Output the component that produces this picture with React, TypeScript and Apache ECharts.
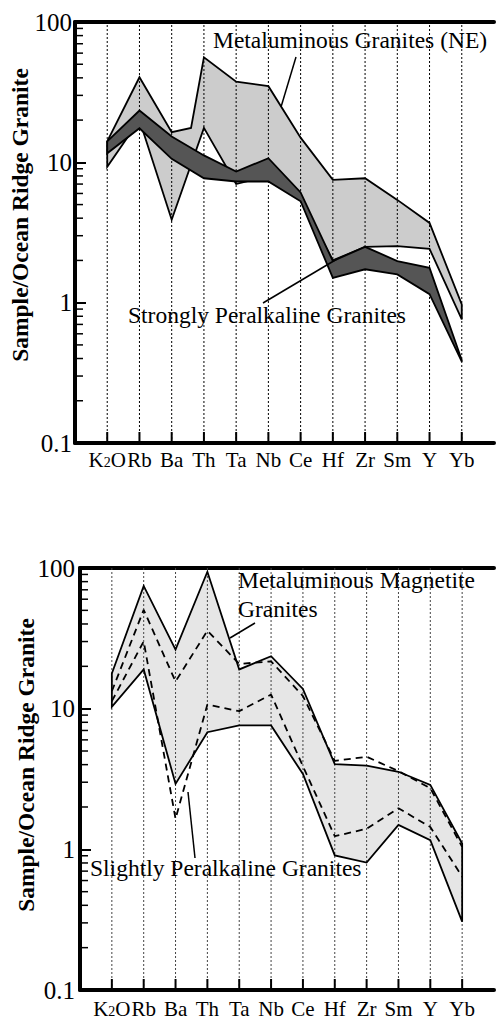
import React, { useEffect, useRef } from "react";
import * as echarts from "echarts";

const categories = ["K2O", "Rb", "Ba", "Th", "Ta", "Nb", "Ce", "Hf", "Zr", "Sm", "Y", "Yb"];
const minorTicks = [0.2, 0.3, 0.4, 0.5, 0.6, 0.7, 0.8, 0.9, 2, 3, 4, 5, 6, 7, 8, 9, 20, 30, 40, 50, 60, 70, 80, 90];

// Upper chart: Metaluminous Granites (NE) envelope, [category position, value]
const metaNEUpper: [number, number][] = [[0, 14.1], [1, 40.4], [2, 16.4], [2.6, 17.6], [3, 56], [4, 37.6], [5, 34.9], [6, 15], [7, 7.5], [8, 7.7], [9, 5.4], [10, 3.7], [11, 0.97]];
const metaNELower: [number, number][] = [[0, 9.3], [1, 20], [2, 3.9], [3, 17.6], [4, 7.0], [5, 8.0], [6, 5.5], [7, 2.0], [8, 2.5], [9, 2.53], [10, 2.42], [11, 0.76]];
// Upper chart: Strongly Peralkaline Granites envelope
const strongUpper = [14.1, 23.4, 15.3, 11.2, 8.6, 10.7, 6.1, 1.98, 2.5, 1.98, 1.77, 0.39];
const strongLower = [11.6, 17.5, 10.6, 7.7, 7.3, 7.3, 5.28, 1.5, 1.73, 1.59, 1.15, 0.38];

// Lower chart: Metaluminous Magnetite Granites envelope
const magUpper = [17.8, 74.6, 26.3, 94, 19, 23.6, 13.8, 4.04, 3.93, 3.56, 2.87, 1.1];
const magLower = [10.3, 19, 2.92, 6.8, 7.6, 7.6, 3.43, 0.906, 0.805, 1.49, 1.16, 0.306];
// Lower chart: Slightly Peralkaline Granites (dashed)
const slightUpper = [13.3, 50.4, 15.6, 35.8, 20.8, 21.7, 12.3, 4.26, 4.55, 3.6, 2.72, 1.04];
const slightLower = [11.3, 30.1, 1.65, 10.7, 9.6, 12.6, 3.9, 1.24, 1.4, 1.96, 1.44, 0.64];

const FONT = "Liberation Serif";

const pairs = (arr: number[]): [number, number][] => arr.map((v, i) => [i, v]);

function polygonSeries(xi: number, yi: number, upper: [number, number][], lower: [number, number][], style: any, z: number) {
  return {
    type: "custom",
    xAxisIndex: xi,
    yAxisIndex: yi,
    z,
    silent: true,
    clip: false,
    data: [[0, 1]],
    renderItem: (_p: any, api: any) => {
      const pts = upper.concat(lower.slice().reverse()).map((p) => api.coord(p));
      return { type: "polygon", shape: { points: pts }, style };
    },
  };
}

function gridLineSeries(xi: number, yi: number, color: string, z: number) {
  return {
    type: "custom",
    xAxisIndex: xi,
    yAxisIndex: yi,
    z,
    silent: true,
    data: categories.map((_, i) => [i, 1]),
    renderItem: (_p: any, api: any) => {
      const x = api.value(0);
      const b = api.coord([x, 0.1]);
      const t = api.coord([x, 100]);
      return {
        type: "group",
        children: [
          { type: "line", shape: { x1: b[0], y1: b[1], x2: t[0], y2: t[1] }, style: { stroke: color, lineWidth: 1, lineDash: [2, 2] } },
          { type: "line", shape: { x1: b[0], y1: b[1], x2: b[0], y2: b[1] - 11 }, style: { stroke: "#000", lineWidth: 2 } },
        ],
      };
    },
  };
}

function minorTickSeries(xi: number, yi: number) {
  return {
    type: "custom",
    xAxisIndex: xi,
    yAxisIndex: yi,
    z: 6,
    silent: true,
    clip: false,
    data: minorTicks.map((v) => [-1, v]),
    renderItem: (_p: any, api: any) => {
      const p = api.coord([-1, api.value(1)]);
      return { type: "line", shape: { x1: p[0], y1: p[1], x2: p[0] + 8, y2: p[1] }, style: { stroke: "#000", lineWidth: 1.5 } };
    },
  };
}

function xAxes(gridIndex: number, margin: number) {
  return [
    {
      type: "value",
      gridIndex,
      min: -1,
      max: 12,
      interval: 1,
      position: "bottom",
      axisLine: { show: true, onZero: false, lineStyle: { color: "#000", width: 4 } },
      axisTick: { show: false },
      splitLine: { show: false },
      axisLabel: {
        margin,
        color: "#000",
        fontSize: 21,
        fontFamily: FONT,
        formatter: (v: number) => {
          const c = categories[Math.round(v)];
          if (c === undefined) return "";
          if (c === "K2O") return "{k|K}{s|2}{k|O}";
          return c;
        },
        rich: {
          k: { fontSize: 21, fontFamily: FONT, color: "#000", padding: [0, 0, 6, 0] },
          s: { fontSize: 14, fontFamily: FONT, color: "#000" },
        },
      },
    },
    {
      type: "value",
      gridIndex,
      min: -1,
      max: 12,
      position: "top",
      axisLine: { show: true, onZero: false, lineStyle: { color: "#000", width: 4 } },
      axisTick: { show: false },
      axisLabel: { show: false },
      splitLine: { show: false },
    },
  ];
}

function yAxis(gridIndex: number, margin: number) {
  return {
    type: "log",
    gridIndex,
    logBase: 10,
    min: 0.1,
    max: 100,
    splitNumber: 3,
    position: "left",
    axisLine: { show: true, onZero: false, lineStyle: { color: "#000", width: 4 } },
    axisTick: { show: true, inside: true, length: 11, lineStyle: { color: "#000", width: 2 } },
    axisLabel: {
      color: "#000",
      fontSize: 25,
      fontFamily: FONT,
      margin,
      formatter: (v: number) => (v < 1 ? v.toFixed(1) : String(Math.round(v))),
    },
    splitLine: { show: false },
  };
}

const stroke = { fill: "none", stroke: "#000", lineWidth: 1.8, lineJoin: "miter" };

function label(text: string, x: number, y: number, bold = false, rotation = 0, align = "left") {
  return {
    type: "text",
    z: 100,
    x,
    y,
    rotation,
    style: {
      text,
      fontFamily: FONT,
      fontSize: 23.5,
      fontWeight: bold ? "bold" : "normal",
      fill: "#000",
      align,
      verticalAlign: "middle",
    },
  };
}

export default function App() {
  const ref = useRef<HTMLDivElement>(null);
  useEffect(() => {
    if (!ref.current) return;
    const chart = echarts.init(ref.current, undefined, { renderer: "svg" });
    chart.setOption({
      animation: false,
      textStyle: { fontFamily: FONT },
      grid: [
        { left: 75, top: 22, width: 423, height: 421 },
        { left: 80, top: 568, width: 423, height: 424 },
      ],
      xAxis: [...xAxes(0, 6), ...xAxes(1, 8)],
      yAxis: [yAxis(0, 3), yAxis(1, 5)],
      series: [
        // upper chart
        polygonSeries(0, 0, metaNEUpper, metaNELower, { fill: "#cccccc", stroke: "none" }, 1),
        gridLineSeries(0, 0, "#000", 2),
        polygonSeries(0, 0, metaNEUpper, metaNELower, stroke, 3),
        polygonSeries(0, 0, pairs(strongUpper), pairs(strongLower), { fill: "#555555", stroke: "none" }, 4),
        polygonSeries(0, 0, pairs(strongUpper), pairs(strongLower), stroke, 5),
        minorTickSeries(0, 0),
        // lower chart
        polygonSeries(2, 1, pairs(magUpper), pairs(magLower), { fill: "#e6e6e6", stroke: "none" }, 1),
        gridLineSeries(2, 1, "#444", 2),
        polygonSeries(2, 1, pairs(magUpper), pairs(magLower), stroke, 3),
        {
          type: "line",
          xAxisIndex: 2,
          yAxisIndex: 1,
          z: 4,
          silent: true,
          symbol: "none",
          data: pairs(slightUpper),
          lineStyle: { color: "#000", width: 1.8, type: [7, 5] },
        },
        {
          type: "line",
          xAxisIndex: 2,
          yAxisIndex: 1,
          z: 4,
          silent: true,
          symbol: "none",
          data: pairs(slightLower),
          lineStyle: { color: "#000", width: 1.8, type: [7, 5] },
        },
        minorTickSeries(2, 1),
      ],
      graphic: [
        label("Sample/Ocean Ridge Granite", 20, 215, true, Math.PI / 2, "center"),
        label("Sample/Ocean Ridge Granite", 26, 765, true, Math.PI / 2, "center"),
        label("Metaluminous Granites (NE)", 213, 40),
        { type: "line", z: 100, shape: { x1: 296, y1: 57, x2: 281, y2: 107 }, style: { stroke: "#000", lineWidth: 1.5 } },
        label("Strongly Peralkaline Granites", 128, 315),
        { type: "line", z: 100, shape: { x1: 263, y1: 303, x2: 337, y2: 259 }, style: { stroke: "#000", lineWidth: 1.5 } },
        label("Metaluminous Magnetite", 238, 580),
        label("Granites", 238, 609),
        { type: "line", z: 100, shape: { x1: 255, y1: 623, x2: 230, y2: 638 }, style: { stroke: "#000", lineWidth: 1.5 } },
        label("Slightly Peralkaline Granites", 90, 868),
        { type: "line", z: 100, shape: { x1: 195, y1: 858, x2: 188, y2: 792 }, style: { stroke: "#000", lineWidth: 1.5 } },
      ],
    });
    return () => chart.dispose();
  }, []);
  return <div ref={ref} style={{ position: "absolute", left: 0, top: 0, width: 497, height: 1019, background: "#fff" }} />;
}
